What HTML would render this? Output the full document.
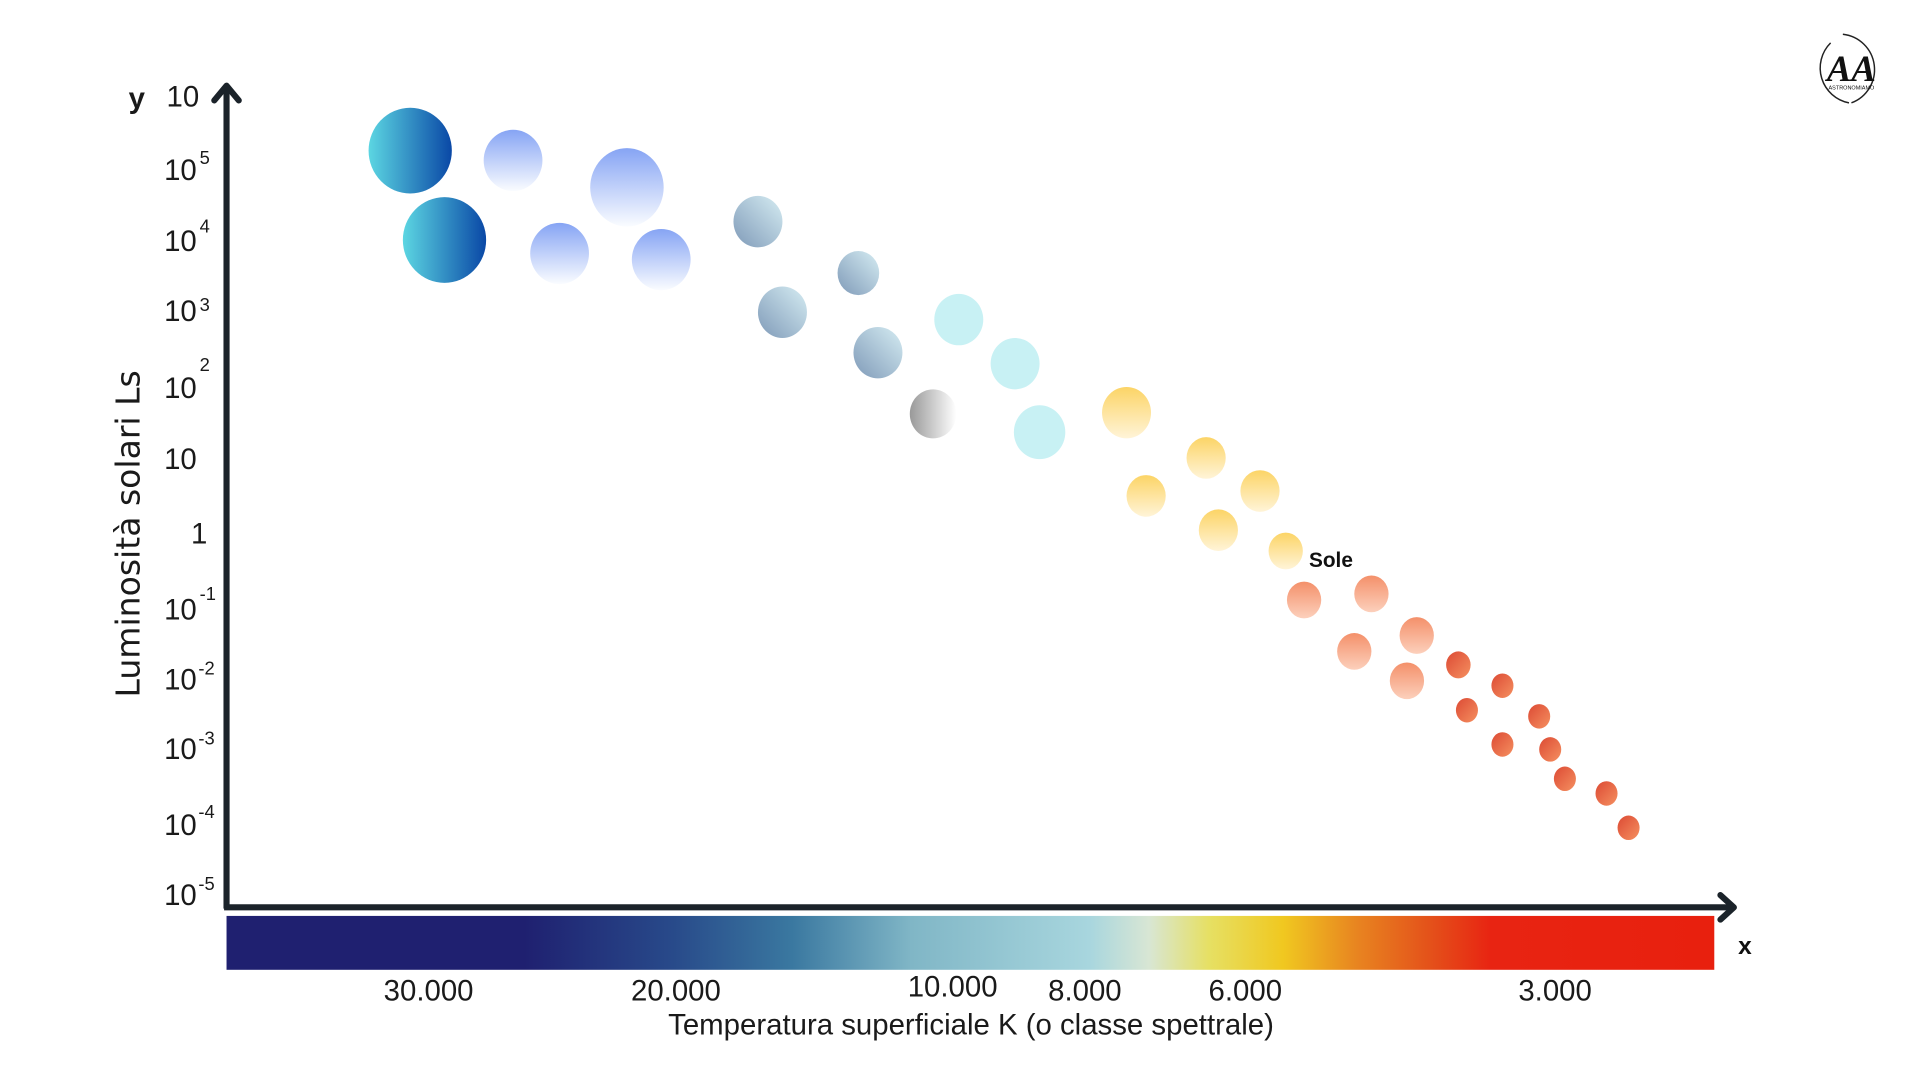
<!DOCTYPE html>
<html><head><meta charset="utf-8"><style>
html,body{margin:0;padding:0;background:#fff;width:1920px;height:1080px;overflow:hidden}
svg{display:block}
.c{font-family:"Liberation Sans Narrow","Liberation Sans",sans-serif;fill:#1a1a1a}
.s{font-family:"DejaVu Sans","Liberation Sans",sans-serif;fill:#1a1a1a}
</style></head><body>
<svg width="1920" height="1080" viewBox="0 0 1568 882" preserveAspectRatio="none" xmlns="http://www.w3.org/2000/svg">
<defs>
<linearGradient id="teal" x1="0" y1="0" x2="1" y2="0"><stop offset="0" stop-color="#5cd6e2"/><stop offset="1" stop-color="#0a48a6"/></linearGradient>
<linearGradient id="peri" x1="0" y1="0" x2="0" y2="1"><stop offset="0" stop-color="#86a4f4"/><stop offset="1" stop-color="#fafcff"/></linearGradient>
<linearGradient id="steel" x1="0" y1="1" x2="1" y2="0"><stop offset="0" stop-color="#7f9ab8"/><stop offset="1" stop-color="#d6edf3"/></linearGradient>
<linearGradient id="grey" x1="0" y1="0" x2="1" y2="0"><stop offset="0" stop-color="#999"/><stop offset="1" stop-color="#fff"/></linearGradient>
<linearGradient id="yel" x1="0" y1="0" x2="0" y2="1"><stop offset="0" stop-color="#fcd466"/><stop offset="1" stop-color="#fff4d8"/></linearGradient>
<linearGradient id="sal" x1="0" y1="0" x2="0" y2="1"><stop offset="0" stop-color="#f4906a"/><stop offset="1" stop-color="#fcd0bc"/></linearGradient>
<linearGradient id="red" x1="0" y1="0" x2="1" y2="1"><stop offset="0" stop-color="#dc4a34"/><stop offset="1" stop-color="#f59060"/></linearGradient>
<linearGradient id="bar" x1="0" y1="0" x2="1" y2="0">
<stop offset="0" stop-color="#1f2070"/><stop offset="0.2" stop-color="#1f2070"/><stop offset="0.3" stop-color="#284a8a"/><stop offset="0.38" stop-color="#3a78a0"/><stop offset="0.46" stop-color="#80b6c6"/><stop offset="0.58" stop-color="#a8d6de"/><stop offset="0.62" stop-color="#d8e6d4"/><stop offset="0.66" stop-color="#e6e064"/><stop offset="0.71" stop-color="#f0c820"/><stop offset="0.76" stop-color="#e88420"/><stop offset="0.81" stop-color="#e4501a"/><stop offset="0.85" stop-color="#e82412"/><stop offset="1" stop-color="#e8200e"/>
</linearGradient>
</defs>
<!-- colorbar -->
<rect x="185" y="748" width="1215" height="44" fill="url(#bar)"/>
<!-- axes -->
<line x1="185" y1="72" x2="185" y2="742" stroke="#1b232a" stroke-width="5"/>
<polyline points="175,82 185,70 195,82" fill="none" stroke="#1b232a" stroke-width="5" stroke-linecap="round" stroke-linejoin="round"/>
<line x1="183" y1="741" x2="1414" y2="741" stroke="#1b232a" stroke-width="5"/>
<polyline points="1405,731 1416,741 1405,751" fill="none" stroke="#1b232a" stroke-width="5" stroke-linecap="round" stroke-linejoin="round"/>
<!-- y labels -->
<text x="105" y="88" class="c" font-size="24" font-weight="bold" style="font-family:'Liberation Sans',sans-serif">y</text>
<g class="c" font-size="24">
<text x="136" y="87">10</text>
<text x="134" y="147">10</text><text x="163" y="134" font-size="15">5</text>
<text x="134" y="205">10</text><text x="163" y="190" font-size="15">4</text>
<text x="134" y="262">10</text><text x="163" y="254" font-size="15">3</text>
<text x="134" y="325">10</text><text x="163" y="303" font-size="15">2</text>
<text x="134" y="383">10</text>
<text x="156" y="444">1</text>
<text x="134" y="506">10</text><text x="163" y="490" font-size="15">-1</text>
<text x="134" y="563">10</text><text x="162" y="551" font-size="15">-2</text>
<text x="134" y="620">10</text><text x="162" y="608" font-size="15">-3</text>
<text x="134" y="682">10</text><text x="162" y="668" font-size="15">-4</text>
<text x="134" y="739">10</text><text x="162" y="727" font-size="15">-5</text>
</g>
<text class="s" font-size="27" text-anchor="middle" transform="translate(114,436) rotate(-90)">Luminosità solari Ls</text>
<!-- x labels -->
<g class="c" font-size="24" text-anchor="middle">
<text x="350" y="817">30.000</text>
<text x="552" y="817">20.000</text>
<text x="778" y="814">10.000</text>
<text x="886" y="817">8.000</text>
<text x="1017" y="817">6.000</text>
<text x="1270" y="817">3.000</text>
<text x="793" y="845">Temperatura superficiale K (o classe spettrale)</text>
</g>
<text x="1425" y="779" font-size="20" font-weight="bold" font-family="Liberation Sans, sans-serif" text-anchor="middle" fill="#111">x</text>
<text x="1069" y="463" font-size="17" font-weight="bold" font-family="Liberation Sans Narrow, Liberation Sans, sans-serif" fill="#111">Sole</text>
<!-- stars -->
<ellipse cx="335" cy="123" rx="34" ry="35" fill="url(#teal)"/>
<ellipse cx="363" cy="196" rx="34" ry="35" fill="url(#teal)"/>
<ellipse cx="419" cy="131" rx="24" ry="25" fill="url(#peri)"/>
<ellipse cx="512" cy="153" rx="30" ry="32" fill="url(#peri)"/>
<ellipse cx="457" cy="207" rx="24" ry="25" fill="url(#peri)"/>
<ellipse cx="540" cy="212" rx="24" ry="25" fill="url(#peri)"/>
<ellipse cx="619" cy="181" rx="20" ry="21" fill="url(#steel)"/>
<ellipse cx="701" cy="223" rx="17" ry="18" fill="url(#steel)"/>
<ellipse cx="639" cy="255" rx="20" ry="21" fill="url(#steel)"/>
<ellipse cx="717" cy="288" rx="20" ry="21" fill="url(#steel)"/>
<ellipse cx="762" cy="338" rx="19" ry="20" fill="url(#grey)"/>
<ellipse cx="783" cy="261" rx="20" ry="21" fill="#c8f1f4"/>
<ellipse cx="829" cy="297" rx="20" ry="21" fill="#c8f1f4"/>
<ellipse cx="849" cy="353" rx="21" ry="22" fill="#c8f1f4"/>
<ellipse cx="920" cy="337" rx="20" ry="21" fill="url(#yel)"/>
<ellipse cx="985" cy="374" rx="16" ry="17" fill="url(#yel)"/>
<ellipse cx="936" cy="405" rx="16" ry="17" fill="url(#yel)"/>
<ellipse cx="1029" cy="401" rx="16" ry="17" fill="url(#yel)"/>
<ellipse cx="995" cy="433" rx="16" ry="17" fill="url(#yel)"/>
<ellipse cx="1050" cy="450" rx="14" ry="15" fill="url(#yel)"/>
<ellipse cx="1065" cy="490" rx="14" ry="15" fill="url(#sal)"/>
<ellipse cx="1120" cy="485" rx="14" ry="15" fill="url(#sal)"/>
<ellipse cx="1106" cy="532" rx="14" ry="15" fill="url(#sal)"/>
<ellipse cx="1157" cy="519" rx="14" ry="15" fill="url(#sal)"/>
<ellipse cx="1149" cy="556" rx="14" ry="15" fill="url(#sal)"/>
<ellipse cx="1191" cy="543" rx="10" ry="11" fill="url(#red)"/>
<ellipse cx="1227" cy="560" rx="9" ry="10" fill="url(#red)"/>
<ellipse cx="1198" cy="580" rx="9" ry="10" fill="url(#red)"/>
<ellipse cx="1257" cy="585" rx="9" ry="10" fill="url(#red)"/>
<ellipse cx="1227" cy="608" rx="9" ry="10" fill="url(#red)"/>
<ellipse cx="1266" cy="612" rx="9" ry="10" fill="url(#red)"/>
<ellipse cx="1278" cy="636" rx="9" ry="10" fill="url(#red)"/>
<ellipse cx="1312" cy="648" rx="9" ry="10" fill="url(#red)"/>
<ellipse cx="1330" cy="676" rx="9" ry="10" fill="url(#red)"/>
<!-- logo -->
<path d="M1505,28 A29,29 0 0 1 1512,84" fill="none" stroke="#222" stroke-width="1.2"/>
<path d="M1495,35 A29,29 0 0 0 1510,84" fill="none" stroke="#222" stroke-width="1.2"/>
<text x="1512" y="66" font-size="30" font-weight="bold" font-style="italic" font-family="Liberation Serif, serif" text-anchor="middle" fill="#111">AA</text>
<text x="1512" y="73" font-size="4.5" font-family="Liberation Sans, sans-serif" text-anchor="middle" fill="#111">ASTRONOMIAMO</text>
</svg>
</body></html>
